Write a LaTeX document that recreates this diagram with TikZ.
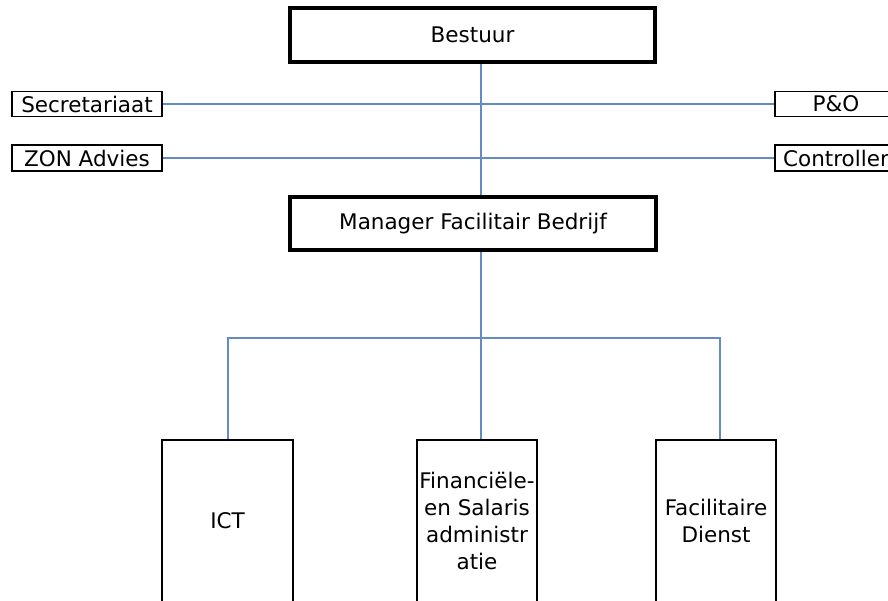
\documentclass[tikz,border=0pt]{standalone}
\usepackage{fontspec}
\setmainfont{DejaVu Sans}
\definecolor{connblue}{RGB}{100,140,195}
\begin{document}
\begin{tikzpicture}[x=1pt,y=-1pt,
  every node/.style={font=\fontsize{21.5}{27}\selectfont, inner sep=0pt, align=center, text=black},
  thickbox/.style={draw=black, line width=3.5pt, fill=white},
  thinbox/.style={draw=black, line width=1.5pt, fill=white},
  conn/.style={draw=connblue, line width=1.7pt}]
\useasboundingbox (0,0) rectangle (888,600);
\coordinate (spine) at (481,0);
\coordinate (barL) at (228,338);
\coordinate (barR) at (720,338);
\node[thickbox, minimum width=365pt, minimum height=54pt] (Bestuur) at (472.5,35) {Bestuur};
\node[thickbox, minimum width=366pt, minimum height=53pt] (Manager) at (473,223.5) {Manager Facilitair Bedrijf};
\node[thinbox, minimum width=150pt, minimum height=25pt] (Sec) at (87,104) {Secretariaat};
\node[thinbox, minimum width=150pt, minimum height=26pt] (ZON) at (87,158) {ZON Advies};
\node[thinbox, minimum width=122pt, minimum height=25pt] (PO) at (836,104) {P\&O};
\node[thinbox, minimum width=122pt, minimum height=26pt] (Ctrl) at (836,158) {Controller};
\node[thinbox, minimum width=131pt, minimum height=162pt] (ICT) at (227.5,521) {ICT};
\node[thinbox, minimum width=120pt, minimum height=162pt] (Fin) at (477,521) {Financiële-\\en Salaris\\administr\\atie};
\node[thinbox, minimum width=120pt, minimum height=162pt] (Fac) at (716,521) {Facilitaire\\Dienst};
\draw[conn] (Bestuur.south -| spine) -- (Manager.north -| spine);
\draw[conn] (Sec.east) -- (PO.west);
\draw[conn] (ZON.east) -- (Ctrl.west);
\draw[conn] (Manager.south -| spine) -- (Fin.north -| spine);
\draw[conn] (ICT.north -| barL) -- (barL) -- (barR) -- (Fac.north -| barR);
\end{tikzpicture}
\end{document}
